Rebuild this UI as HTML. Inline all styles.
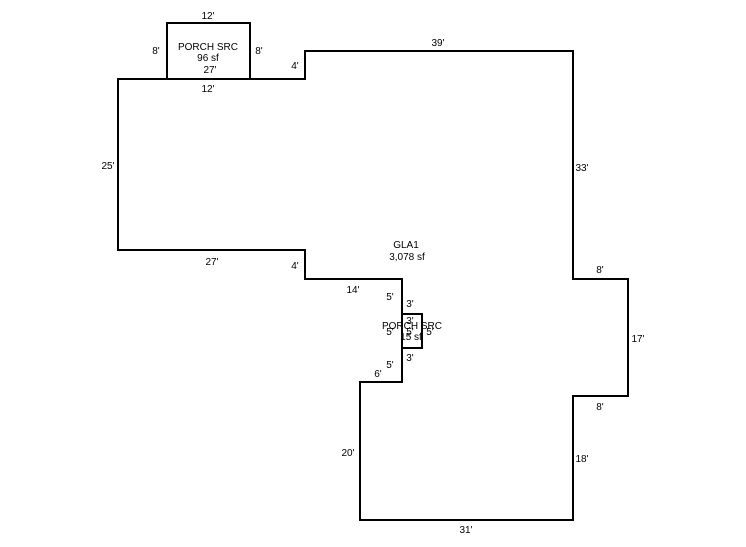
<!DOCTYPE html>
<html><head><style>html,body{margin:0;padding:0;background:#fff;}svg{display:block}</style></head>
<body>
<svg width="746" height="547" viewBox="0 0 746 547" xmlns="http://www.w3.org/2000/svg" font-family="Liberation Sans, Arial, sans-serif" font-size="10" fill="#000">
<g fill="none" stroke="#000" stroke-width="2">
<polygon points="118,79 305,79 305,51 573,51 573,279 628,279 628,396 573,396 573,520 360,520 360,382 402,382 402,279 305,279 305,250 118,250"/>
<rect x="167" y="23" width="83" height="56"/>
<rect x="402" y="314" width="20" height="34"/>
</g>
<g text-anchor="middle">
<text x="208" y="19">12'</text>
<text x="208" y="50">PORCH SRC</text>
<text x="208" y="61">96 sf</text>
<text x="210" y="73">27'</text>
<text x="208" y="92">12'</text>
<text x="156" y="54">8'</text>
<text x="259" y="54">8'</text>
<text x="295" y="69">4'</text>
<text x="438" y="46">39'</text>
<text x="582" y="171">33'</text>
<text x="108" y="169">25'</text>
<text x="212" y="265">27'</text>
<text x="295" y="269">4'</text>
<text x="406" y="248">GLA1</text>
<text x="407" y="260">3,078 sf</text>
<text x="353" y="293">14'</text>
<text x="390" y="300">5'</text>
<text x="410" y="307">3'</text>
<text x="412" y="329">PORCH SRC</text>
<text x="410" y="324">3'</text>
<text x="390" y="335">5'</text>
<text x="430" y="335">5'</text>
<text x="410" y="335">5'</text>
<text x="411" y="340">15 sf</text>
<text x="410" y="361">3'</text>
<text x="390" y="368">5'</text>
<text x="378" y="377">6'</text>
<text x="600" y="273">8'</text>
<text x="638" y="342">17'</text>
<text x="600" y="410">8'</text>
<text x="582" y="462">18'</text>
<text x="348" y="456">20'</text>
<text x="466" y="533">31'</text>
</g>
</svg>
</body></html>
